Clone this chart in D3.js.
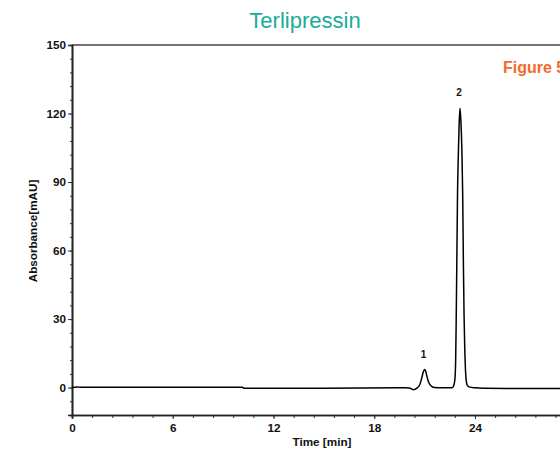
<!DOCTYPE html>
<html>
<head>
<meta charset="utf-8">
<script src="https://cdn.jsdelivr.net/npm/d3@7"></script>
<style>
  html, body { margin: 0; padding: 0; background: #fff; overflow: hidden; }
  svg { display: block; }
  .tick-label { font-family: Arial, "Liberation Sans", sans-serif; font-weight: bold; font-size: 11.7px; fill: #111; }
</style>
</head>
<body>
<svg id="chart" width="560" height="453"></svg>
<script>
'use strict';

// chromatogram trace
const times = [0, 0.15, 0.35, 0.55, 1.0, 10.15, 10.25, 15, 19.5, 19.8, 20.1, 20.25, 20.33, 20.45,
  20.58, 20.68, 20.77, 20.85, 20.93, 21.0, 21.06, 21.13, 21.22, 21.32, 21.42, 21.6, 22.0,
  22.62, 22.7, 22.76, 22.81, 22.85, 22.88, 22.92, 22.96, 23.01, 23.06, 23.11, 23.16, 23.23,
  23.27, 23.31, 23.35, 23.39, 23.44, 23.49, 23.56, 23.7, 24.0, 24.5, 26, 28, 30];
const absorbance = [0, 0.2, 0.3, 0.1, 0.1, 0.1, -0.3, -0.3, -0.1, -0.1, -0.2, -0.7, -0.9, -0.6,
  0, 0.8, 2.5, 4.8, 7.0, 7.9, 7.3, 5.2, 2.8, 1.3, 0.5, 0.0, -0.1,
  -0.1, 0.3, 1.5, 4, 12, 28, 55, 84, 102, 116, 122.3, 117, 101,
  84, 55, 32, 18, 7, 2.5, 0.8, 0.2, -0.1, -0.3, -0.4, -0.4, -0.4];

// peak labels
const peakNames = ['1', '2'];
const peakTimes = [21.0, 23.11];
const peakHeights = [7.9, 122.3];

// 30 min falls past the right edge of the window
const xMajor = [0, 6, 12, 18, 24];
const yMajor = [0, 30, 60, 90, 120, 150];

const svg = d3.select('#chart');
const plotLeft = 72;
const plotTop = 45;
const plotBottom = 415;
const x = d3.scaleLinear().domain([0, 30]).range([plotLeft, plotLeft + 30 * 16.79]);
const y = d3.scaleLinear().domain([-12, 150]).range([plotBottom, plotTop]);

// title and tag
svg.append('text')
  .attr('x', 305).attr('y', 28)
  .attr('text-anchor', 'middle')
  .style('font-family', 'Arial, "Liberation Sans", sans-serif')
  .style('font-size', '22px')
  .style('fill', '#1aab9b')
  .text('Terlipressin');

// the tag runs off the right edge, as in the source figure
svg.append('text')
  .attr('x', 503).attr('y', 73)
  .style('font-family', 'Arial, "Liberation Sans", sans-serif')
  .style('font-size', '16px')
  .style('font-weight', 'bold')
  .style('fill', '#f26b2b')
  .text('Figure 5');

// frame lines
svg.append('line')
  .attr('x1', plotLeft).attr('x2', x(30)).attr('y1', plotTop).attr('y2', plotTop)
  .style('stroke', '#444').style('stroke-width', 1.6);
svg.append('line')
  .attr('x1', x(30)).attr('x2', x(30)).attr('y1', plotTop).attr('y2', plotBottom)
  .style('stroke', '#444').style('stroke-width', 1.6);

// x axis
const xAxis = svg.append('g').attr('transform', 'translate(0,' + plotBottom + ')');
xAxis.append('g')
  .call(d3.axisBottom(x).tickValues(d3.range(0, 30.01, 1.2)).tickSize(3).tickFormat(''));
xAxis.append('g')
  .call(d3.axisBottom(x).tickValues(xMajor).tickSize(4).tickPadding(5)
    .tickFormat(d3.format('d')));
xAxis.selectAll('.domain').style('stroke', '#222').style('stroke-width', 1.6);
xAxis.selectAll('line').style('stroke', '#333');
xAxis.selectAll('text').attr('class', 'tick-label');

// y axis
const yAxis = svg.append('g').attr('transform', 'translate(' + plotLeft + ',0)');
yAxis.append('g')
  .call(d3.axisLeft(y).tickValues(d3.range(-12, 150.01, 6)).tickSize(2).tickFormat(''));
yAxis.append('g')
  .call(d3.axisLeft(y).tickValues(yMajor).tickSize(4).tickPadding(2)
    .tickFormat(d3.format('d')));
yAxis.selectAll('.domain').style('stroke', '#222').style('stroke-width', 1.6);
yAxis.selectAll('line').style('stroke', '#333');
yAxis.selectAll('text').attr('class', 'tick-label');

// axis titles
svg.append('text')
  .attr('class', 'tick-label')
  .attr('x', 322).attr('y', 446)
  .attr('text-anchor', 'middle')
  .text('Time [min]');

svg.append('text')
  .attr('class', 'tick-label')
  .attr('transform', 'translate(37,231) rotate(-90)')
  .attr('text-anchor', 'middle')
  .text('Absorbance[mAU]');

// trace
const line = d3.line()
  .x(function(d, i) { return x(times[i]); })
  .y(function(d) { return y(d); })
  .curve(d3.curveMonotoneX);

svg.append('path')
  .datum(absorbance)
  .attr('d', line)
  .style('fill', 'none')
  .style('stroke', '#000')
  .style('stroke-width', 1.5);

// peak numbers
svg.selectAll('text.peak')
  .data(peakNames)
  .enter()
  .append('text')
  .attr('class', 'peak tick-label')
  .attr('x', function(d, i) { return x(peakTimes[i]) - 1; })
  .attr('y', function(d, i) { return y(peakHeights[i]) - 12; })
  .attr('text-anchor', 'middle')
  .style('font-size', '10px')
  .text(function(d) { return d; });
</script>
</body>
</html>
